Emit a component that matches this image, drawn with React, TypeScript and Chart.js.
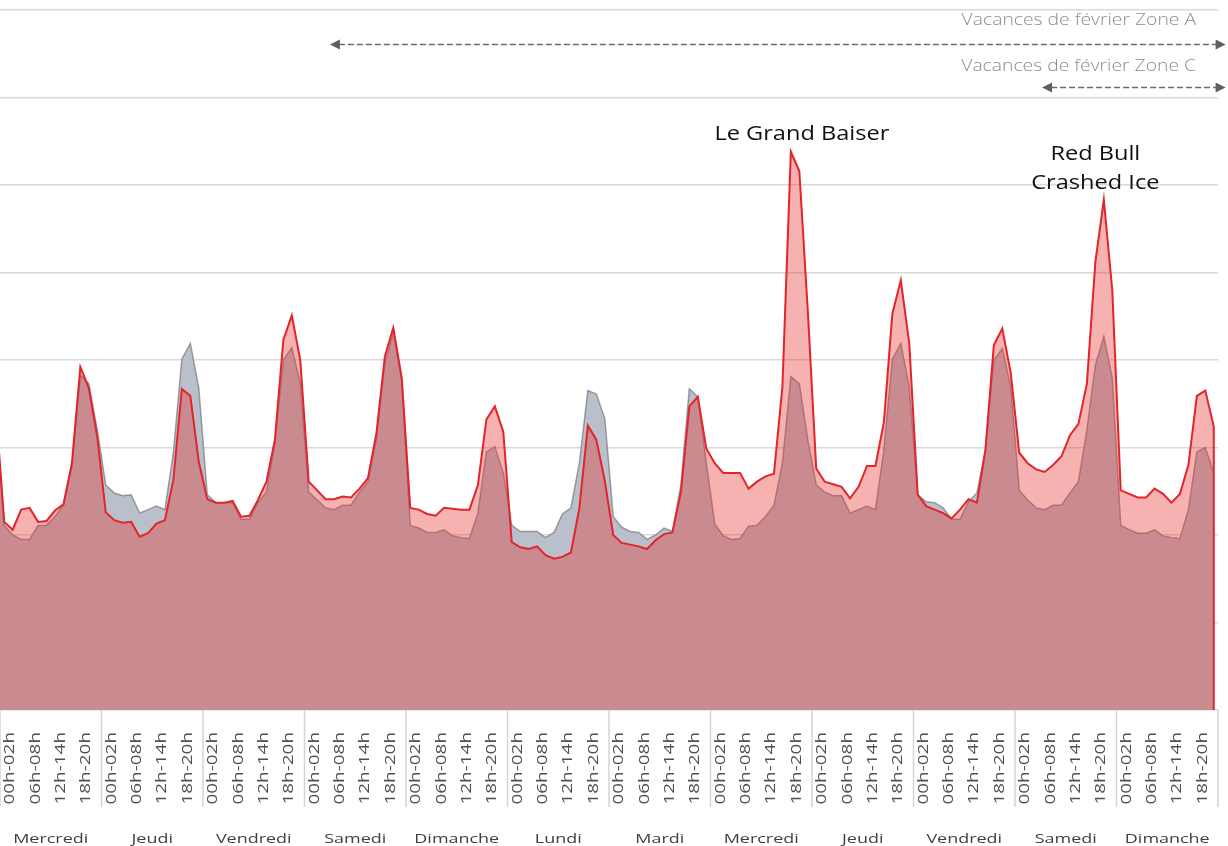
import React, { useEffect, useRef } from "react";
import { Chart, registerables } from "chart.js";

Chart.register(...registerables);

// ---- Data ----
const days = [
  "Mercredi", "Jeudi", "Vendredi", "Samedi", "Dimanche", "Lundi",
  "Mardi", "Mercredi", "Jeudi", "Vendredi", "Samedi", "Dimanche",
];

const slotLabels = [
  "00h-02h", "02h-04h", "04h-06h", "06h-08h", "08h-10h", "10h-12h",
  "12h-14h", "14h-16h", "16h-18h", "18h-20h", "20h-22h", "22h-24h",
];
const labelEvery = 3;

// last slot of the preceding (cropped) day, only partly visible at the left edge
const currentLeadIn = 34.5;
const referenceLeadIn = 34.1;

// current period (red), 12 two-hour slots per day
const current = [
  21.5, 20.6, 22.9, 23.1, 21.5, 21.6, 22.8, 23.5, 28.2, 39.2, 36.8, 31.2,
  22.6, 21.7, 21.4, 21.5, 19.8, 20.2, 21.3, 21.7, 26.3, 36.7, 35.9, 28.4,
  24.1, 23.7, 23.7, 23.9, 22.1, 22.2, 24.0, 26.1, 30.9, 42.3, 45.1, 40.0,
  26.1, 25.1, 24.1, 24.1, 24.4, 24.3, 25.3, 26.5, 31.6, 40.4, 43.7, 37.9,
  23.1, 22.9, 22.4, 22.2, 23.1, 23.0, 22.9, 22.9, 25.7, 33.2, 34.7, 31.8,
  19.2, 18.6, 18.4, 18.7, 17.7, 17.3, 17.5, 18.0, 23.1, 32.5, 30.9, 26.2,
  20.0, 19.1, 18.9, 18.7, 18.4, 19.4, 20.1, 20.3, 24.9, 34.7, 35.8, 29.9,
  28.2, 27.1, 27.1, 27.1, 25.3, 26.1, 26.7, 27.0, 36.9, 63.8, 61.6, 45.7,
  27.6, 26.1, 25.8, 25.5, 24.2, 25.5, 27.9, 27.9, 32.9, 45.3, 49.1, 41.9,
  24.6, 23.3, 22.9, 22.5, 21.9, 22.9, 24.1, 23.7, 29.7, 41.7, 43.6, 38.5,
  29.4, 28.2, 27.5, 27.2, 28.0, 29.0, 31.4, 32.7, 37.3, 51.2, 58.3, 48.0,
  25.1, 24.7, 24.3, 24.3, 25.3, 24.7, 23.7, 24.7, 28.0, 35.9, 36.5, 32.4,
];

// reference period (grey)
const reference = [
  21.1, 20.0, 19.5, 19.5, 21.1, 21.1, 22.1, 23.4, 27.8, 38.3, 37.3, 32.0,
  25.7, 24.8, 24.5, 24.6, 22.5, 22.9, 23.3, 22.9, 29.4, 40.1, 41.9, 36.8,
  24.6, 23.7, 23.7, 23.7, 21.8, 21.8, 23.7, 24.9, 30.5, 40.0, 41.4, 37.3,
  24.9, 24.0, 23.1, 22.9, 23.4, 23.4, 24.9, 26.1, 30.9, 39.6, 43.1, 37.7,
  21.1, 20.8, 20.3, 20.3, 20.6, 19.9, 19.7, 19.6, 22.5, 29.5, 30.1, 27.1,
  21.1, 20.4, 20.4, 20.4, 19.7, 20.3, 22.4, 23.1, 28.2, 36.5, 36.1, 33.3,
  22.1, 20.9, 20.4, 20.3, 19.5, 20.0, 20.8, 20.4, 25.7, 36.7, 35.8, 28.2,
  21.3, 19.9, 19.5, 19.6, 21.0, 21.1, 22.1, 23.4, 28.2, 38.1, 37.3, 30.9,
  25.7, 24.9, 24.5, 24.5, 22.5, 22.9, 23.3, 22.9, 29.7, 40.1, 41.9, 36.9,
  24.6, 23.8, 23.7, 23.1, 21.8, 21.8, 23.8, 24.8, 29.7, 40.0, 41.3, 36.9,
  25.1, 24.0, 23.1, 22.9, 23.4, 23.4, 24.8, 26.1, 32.0, 39.4, 42.7, 37.9,
  21.1, 20.6, 20.2, 20.2, 20.6, 19.9, 19.7, 19.6, 22.9, 29.5, 30.0, 27.1,
];

const yMax = 80;
const yStep = 10;

const eventNotes = [
  { lines: ["Le Grand Baiser"], slot: 94.3, value: 65.2 },
  { lines: ["Red Bull", "Crashed Ice"], slot: 129.0, value: 62.9 },
];

const holidays = [
  { text: "Vacances de février Zone A", textSlot: 140.9, textValue: 78.3, from: 38.5, to: 144.4, arrowValue: 76.1 },
  { text: "Vacances de février Zone C", textSlot: 140.9, textValue: 73.0, from: 122.7, to: 144.4, arrowValue: 71.2 },
];

// ---- Helpers ----
function drawStretched(ctx: CanvasRenderingContext2D, text: string, x: number, y: number, sx: number) {
  ctx.save();
  ctx.translate(x, y);
  ctx.scale(sx, 1);
  ctx.fillText(text, 0, 0);
  ctx.restore();
}

function arrowHead(ctx: CanvasRenderingContext2D, tipX: number, y: number, dir: number) {
  const len = 10;
  const half = 5;
  ctx.beginPath();
  ctx.moveTo(tipX, y);
  ctx.lineTo(tipX - dir * len, y - half);
  ctx.lineTo(tipX - dir * len, y + half);
  ctx.closePath();
  ctx.fill();
}

const decorPlugin = {
  id: "decor",
  afterDraw(chart: any) {
    const { ctx, chartArea } = chart;
    const x = chart.scales.x;
    const y = chart.scales.y;
    const bottom = chartArea.bottom;
    ctx.save();

    // day separators
    ctx.strokeStyle = "#d4d4d4";
    ctx.lineWidth = 1.5;
    for (let d = 0; d <= days.length; d++) {
      const px = x.getPixelForValue(d * slotLabels.length - 0.5);
      ctx.beginPath();
      ctx.moveTo(px, bottom);
      ctx.lineTo(px, bottom + 97);
      ctx.stroke();
    }

    // rotated slot labels
    ctx.fillStyle = "#505050";
    ctx.font = '14px "Open Sans"';
    ctx.textAlign = "right";
    ctx.textBaseline = "middle";
    for (let i = 0; i < current.length; i += labelEvery) {
      const px = x.getPixelForValue(i) + 6;
      ctx.save();
      ctx.translate(px, bottom + 22);
      ctx.rotate(-Math.PI / 2);
      ctx.scale(1.35, 1);
      ctx.fillText(slotLabels[i % slotLabels.length], 0, 0);
      ctx.restore();
    }

    // day names
    ctx.fillStyle = "#404040";
    ctx.font = '13.5px "Open Sans"';
    ctx.textAlign = "center";
    ctx.textBaseline = "alphabetic";
    days.forEach((d, k) => {
      const px = x.getPixelForValue(k * slotLabels.length + (slotLabels.length - 1) / 2);
      drawStretched(ctx, d, px, bottom + 133, 1.33);
    });

    // holiday arrows
    holidays.forEach((h) => {
      ctx.fillStyle = "#8c8c8c";
      ctx.font = '300 16.5px "Open Sans"';
      ctx.textAlign = "right";
      ctx.textBaseline = "alphabetic";
      drawStretched(ctx, h.text, x.getPixelForValue(h.textSlot), y.getPixelForValue(h.textValue), 1.17);

      const ay = Math.round(y.getPixelForValue(h.arrowValue)) + 0.5;
      const x1 = x.getPixelForValue(h.from);
      const x2 = x.getPixelForValue(h.to);
      ctx.strokeStyle = "#6b6b6b";
      ctx.fillStyle = "#5f5f5f";
      ctx.lineWidth = 1.3;
      ctx.setLineDash([6, 3]);
      ctx.beginPath();
      ctx.moveTo(x1 + 9, ay);
      ctx.lineTo(x2 - 9, ay);
      ctx.stroke();
      ctx.setLineDash([]);
      arrowHead(ctx, x1, ay, -1);
      arrowHead(ctx, x2, ay, 1);
    });

    // event notes
    ctx.fillStyle = "#111111";
    ctx.font = '20.5px "Open Sans"';
    ctx.textAlign = "center";
    ctx.textBaseline = "alphabetic";
    eventNotes.forEach((n) => {
      const px = x.getPixelForValue(n.slot);
      const py = y.getPixelForValue(n.value);
      n.lines.forEach((line, k) => drawStretched(ctx, line, px, py + k * 29, 1.15));
    });

    ctx.restore();
  },
};

export default function App() {
  const ref = useRef<HTMLCanvasElement | null>(null);

  useEffect(() => {
    document.body.style.margin = "0";
    const canvas = ref.current;
    if (!canvas) return;

    const last = current.length - 1;
    const currentPoints = [
      { x: -1, y: currentLeadIn },
      ...current.map((v, i) => ({ x: i, y: v })),
      { x: last, y: 0 },
    ];
    const referencePoints = [
      { x: -1, y: referenceLeadIn },
      ...reference.map((v, i) => ({ x: i, y: v })),
    ];

    const chart = new Chart(canvas, {
      type: "line",
      data: {
        datasets: [
          {
            label: "Période actuelle",
            data: currentPoints,
            borderColor: "#e3242b",
            borderWidth: 2,
            backgroundColor: "rgba(232,52,48,0.38)",
            fill: "origin",
            pointRadius: 0,
            tension: 0,
          },
          {
            label: "Période de référence",
            data: referencePoints,
            borderColor: "rgba(125,125,130,0.75)",
            borderWidth: 1.5,
            backgroundColor: "#b9c0cc",
            fill: "origin",
            pointRadius: 0,
            tension: 0,
          },
        ],
      },
      options: {
        animation: false,
        responsive: false,
        devicePixelRatio: 1,
        layout: { padding: { left: 0, right: 10, top: 10, bottom: 136 } },
        plugins: {
          legend: { display: false },
          tooltip: { enabled: false },
        },
        scales: {
          x: {
            type: "linear",
            min: -0.5,
            max: current.length - 0.5,
            display: false,
          },
          y: {
            min: 0,
            max: yMax,
            ticks: { display: false, stepSize: yStep },
            border: { display: false },
            grid: { color: "#d9d9d9", lineWidth: 1.5, drawTicks: false },
          },
        },
      },
      plugins: [decorPlugin],
    });

    return () => chart.destroy();
  }, []);

  return (
    <div style={{ position: "absolute", left: 0, top: 0, width: 1228, height: 846 }}>
      <canvas ref={ref} width={1228} height={846} style={{ display: "block" }} />
    </div>
  );
}
